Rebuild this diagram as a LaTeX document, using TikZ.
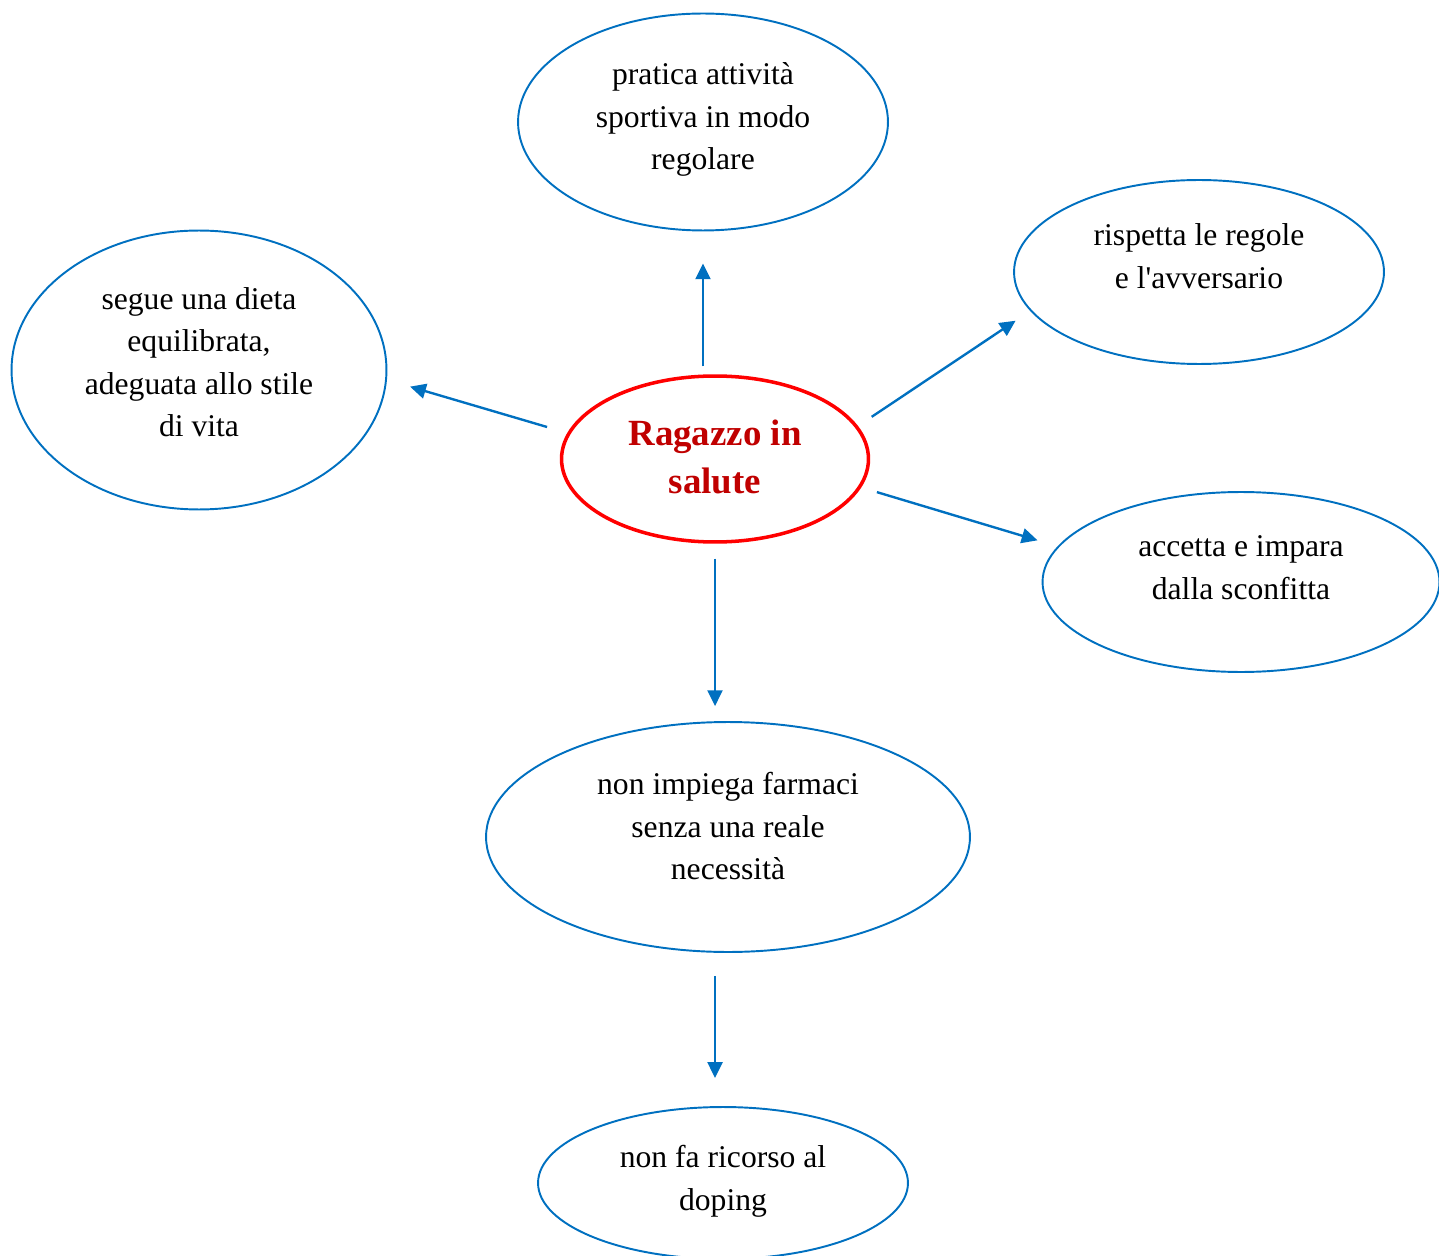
\documentclass[tikz,border=0pt]{standalone}
\usepackage{fontspec}
\setmainfont{Liberation Serif}
\usetikzlibrary{arrows.meta, shapes.geometric}
\definecolor{azzurro}{HTML}{0070C0}
\definecolor{rosso}{HTML}{FF0000}
\definecolor{rossoscuro}{HTML}{C00000}
\tikzset{
	idea/.style={ellipse, draw=azzurro, line width=1.1pt, inner sep=0pt, align=center, font=\fontsize{18}{24.2}\selectfont}, % ovali blu
	centro/.style={ellipse, draw=rosso, line width=2pt, inner sep=0pt, align=center, text=rossoscuro, font=\fontsize{21}{27.3}\selectfont\bfseries}, % ovale centrale
	righe/.style 2 args={text height=#1, text depth=#2}, % posizione verticale del testo
	freccia/.style={draw=azzurro, line width=1.35pt, -{Triangle[length=9pt, width=8.5pt]}} % frecce blu
}

\begin{document}
\begin{tikzpicture}[x=0.02cm, y=-0.02cm]
	\useasboundingbox (0,0) rectangle (1439,1256);
	\node[centro, minimum width=6.14cm, minimum height=3.32cm, righe={43.3pt}{4pt}] (c) at (715,459) {Ragazzo in\\salute};
	\node[idea, minimum width=7.4cm, minimum height=4.34cm, righe={64.4pt}{10.1pt}] (t) at (703,122) {pratica attività\\sportiva in modo\\regolare};
	\node[idea, minimum width=7.5cm, minimum height=5.58cm, righe={88.6pt}{12.5pt}] (l) at (199,370) {segue una dieta\\equilibrata,\\adeguata allo stile\\di vita};
	\node[idea, minimum width=7.4cm, minimum height=3.68cm, righe={40.2pt}{21.5pt}] (rt) at (1199,272) {rispetta le regole\\e l\textquotesingle avversario};
	\node[idea, minimum width=7.94cm, minimum height=3.6cm, righe={40.2pt}{20.3pt}] (r) at (1241,582) {accetta e impara\\dalla sconfitta};
	\node[idea, minimum width=9.68cm, minimum height=4.6cm, righe={64.4pt}{15.9pt}] (b) at (728,837) {non impiega farmaci\\senza una reale\\necessità};
	\node[idea, minimum width=7.4cm, minimum height=3.04cm, righe={40.2pt}{8.9pt}] (d) at (723,1183) {non fa ricorso al\\doping};
	\draw[freccia, shorten <=4.5pt, shorten >=18.2pt] (c.north -| t.south) -- (t.south);
	\draw[freccia, shorten <=12pt, shorten >=13.7pt] (c.170.3) -- (l.-3.1);
	\draw[freccia, shorten <=9.4pt, shorten >=10pt] (c.13.7) -- (rt.193.7);
	\draw[freccia, shorten <=9.3pt, shorten >=11.9pt] (c.-11.1) -- (r.169.2);
	\draw[freccia, shorten <=8.5pt, shorten >=8.5pt] (c.south) -- (c.south |- b.north);
	\draw[freccia, shorten <=13pt, shorten >=16pt] (b.south -| c.south) -- (d.north -| c.south);
\end{tikzpicture}
\end{document}
